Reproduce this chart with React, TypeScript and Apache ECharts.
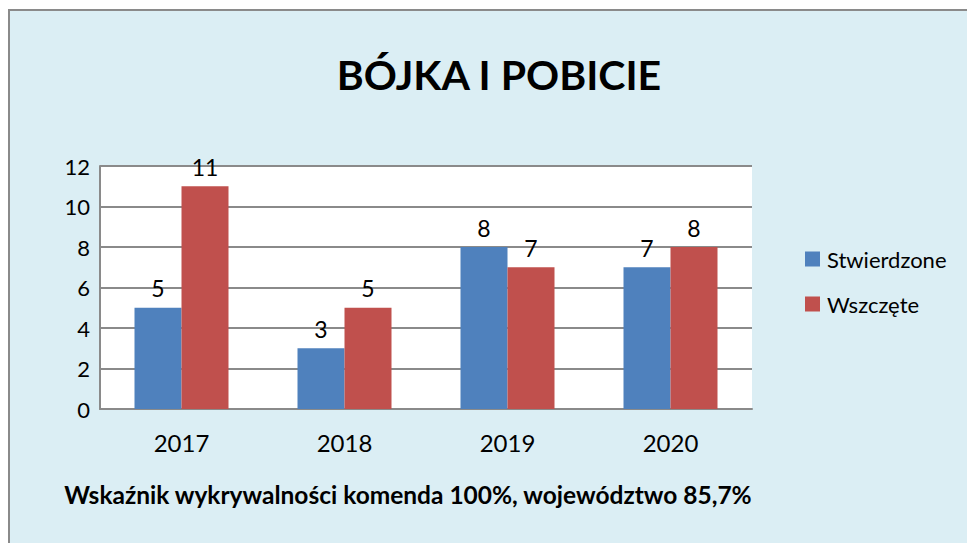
import React, { useEffect, useRef } from "react";
import * as echarts from "echarts";

const categories = ["2017", "2018", "2019", "2020"];
const stwierdzone = [5, 3, 8, 7];
const wszczete = [11, 5, 7, 8];
const seriesNames = ["Stwierdzone", "Wszczęte"];
const titleText = "BÓJKA I POBICIE";
const footerText = "Wskaźnik wykrywalności komenda 100%, województwo 85,7%";

const FONT = "Lato, 'Open Sans', sans-serif";

export default function App() {
  const ref = useRef<HTMLDivElement>(null);
  useEffect(() => {
    if (!ref.current) return;
    const chart = echarts.init(ref.current, undefined, { renderer: "svg" });
    chart.setOption({
      animation: false,
      backgroundColor: "#ffffff",
      textStyle: { fontFamily: FONT },
      graphic: [
        {
          type: "rect",
          z: -10,
          silent: true,
          shape: { x: 9, y: 10, width: 970, height: 545 },
          style: { fill: "#DBEEF4", stroke: "#8A8A8A", lineWidth: 2 },
        },
        {
          type: "rect",
          z: -5,
          silent: true,
          shape: { x: 100, y: 166, width: 652, height: 243 },
          style: { fill: "#ffffff" },
        },
        {
          type: "text",
          style: {
            x: 408,
            y: 494,
            text: footerText,
            align: "center",
            verticalAlign: "middle",
            fontFamily: FONT,
            fontWeight: "bold",
            fontSize: 24.5,
            fill: "#000000",
          },
        },
      ],
      title: {
        text: titleText,
        left: 494,
        textAlign: "center",
        top: 49,
        textStyle: { fontFamily: FONT, fontWeight: "bold", fontSize: 41, color: "#000000" },
      },
      legend: {
        orient: "vertical",
        left: 800,
        top: 243,
        itemWidth: 15,
        itemHeight: 15,
        itemGap: 23,
        icon: "rect",
        textStyle: { fontFamily: FONT, fontSize: 22, color: "#000000", padding: [0, 0, 0, 2] },
        data: seriesNames,
      },
      grid: { left: 100, right: 215, top: 166, bottom: 134, containLabel: false },
      xAxis: {
        type: "category",
        data: categories,
        axisLine: { lineStyle: { color: "#8A8A8A", width: 2 } },
        axisTick: { show: false },
        axisLabel: { fontFamily: FONT, fontSize: 24, color: "#000000", margin: 21 },
      },
      yAxis: {
        type: "value",
        min: 0,
        max: 12,
        interval: 2,
        axisLine: { show: true, lineStyle: { color: "#8A8A8A", width: 2 } },
        axisTick: { show: false },
        splitLine: { lineStyle: { color: "#8A8A8A", width: 2 } },
        axisLabel: { fontFamily: FONT, fontSize: 22, color: "#000000", margin: 10 },
      },
      series: [
        {
          name: seriesNames[0],
          type: "bar",
          data: stwierdzone,
          barWidth: 47,
          barGap: "0%",
          itemStyle: { color: "#4F81BD" },
          label: { show: true, position: "top", distance: 8, fontFamily: FONT, fontSize: 23, color: "#000000" },
        },
        {
          name: seriesNames[1],
          type: "bar",
          data: wszczete,
          barWidth: 47,
          barGap: "0%",
          itemStyle: { color: "#C0504D" },
          label: { show: true, position: "top", distance: 8, fontFamily: FONT, fontSize: 23, color: "#000000" },
        },
      ],
    });
    return () => chart.dispose();
  }, []);
  return (
    <div
      ref={ref}
      style={{ position: "fixed", left: 0, top: 0, width: 967, height: 543 }}
    />
  );
}
